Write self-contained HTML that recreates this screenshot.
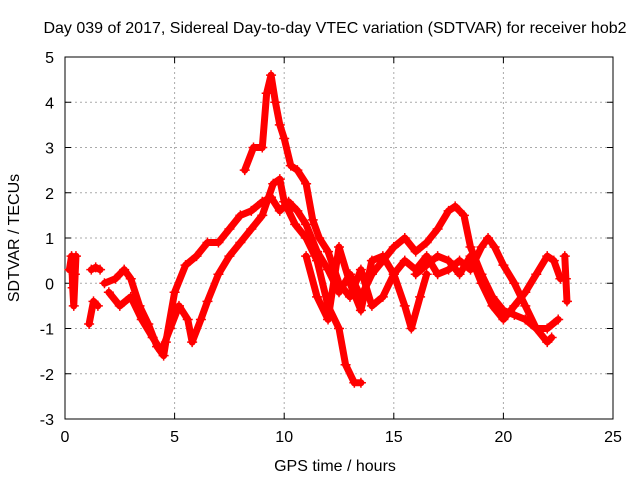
<!DOCTYPE html>
<html><head><meta charset="utf-8"><style>
body{margin:0;background:#fff}
svg{display:block;font-family:"Liberation Sans",sans-serif}
</style></head><body>
<svg id="chart" width="640" height="480">
<rect width="640" height="480" fill="#fff"/>
<g id="grid"></g>
<rect x="65" y="57" width="548" height="362" fill="none" stroke="#000" stroke-width="1"/>
<g id="ticks"></g>
<g id="series"></g>
<text x="335" y="33" text-anchor="middle" font-size="16">Day 039 of 2017, Sidereal Day-to-day VTEC variation (SDTVAR) for receiver hob2</text>
<text x="335" y="471" text-anchor="middle" font-size="16">GPS time / hours</text>
<text transform="translate(19,238) rotate(-90)" text-anchor="middle" font-size="16">SDTVAR / TECUs</text>
</svg>
<script>
const xTicks=[0,5,10,15,20,25];
const yTicks=[-3,-2,-1,0,1,2,3,4,5];
const s1=[[0.2,0.3],[0.3,0.6],[0.35,-0.1],[0.4,-0.5],[0.5,0.6],[0.45,0.2]];
const s2=[[1.1,-0.9],[1.3,-0.4],[1.5,-0.5]];
const s3=[[1.2,0.3],[1.4,0.35],[1.6,0.3]];
const s4=[[1.8,0],[2.3,0.1],[2.7,0.3],[3.0,0.1],[3.4,-0.5],[3.8,-0.9],[4.2,-1.4],[4.5,-1.6],[4.6,-1.3],[5.0,-0.2],[5.5,0.4],[6.0,0.6],[6.5,0.9],[7.0,0.9],[7.5,1.2],[8.0,1.5],[8.5,1.6],[9.0,1.8],[9.4,1.9],[9.8,1.6],[10.2,1.8],[10.6,1.6],[11.0,1.3],[11.5,0.7],[12,0.3],[12.5,-0.2],[13,0.2],[13.5,-0.3],[14,0.2],[14.5,0.5],[15,0.8],[15.5,1.0],[16,0.7],[16.5,0.9],[17,1.2],[17.5,1.6],[17.8,1.7],[18.2,1.5],[18.5,0.8],[19,0.2],[19.5,-0.3],[20,-0.6],[20.5,-0.7],[21,-0.8],[21.5,-1.0],[22,-1.0],[22.5,-0.8]];
const s5=[[2.0,-0.2],[2.5,-0.5],[3,-0.3],[3.5,-0.8],[4,-1.2],[4.4,-1.5],[4.8,-1.0],[5.2,-0.5],[5.6,-0.8],[5.8,-1.3],[6.2,-0.8],[6.5,-0.4],[7,0.2],[7.5,0.6],[8,0.9],[8.5,1.2],[9,1.5],[9.5,2.2],[9.8,2.3],[10,1.8],[10.5,1.3],[11,1.0],[11.5,0.5],[12,-0.5],[12.5,-1.0],[12.8,-1.8],[13.2,-2.2],[13.5,-2.2]];
const s6=[[8.2,2.5],[8.6,3.0],[9.0,3.0],[9.2,4.2],[9.4,4.6],[9.6,4.0],[9.8,3.5],[10,3.2],[10.3,2.6],[10.6,2.5],[11,2.2],[11.3,1.4],[11.6,1.0],[12,0.7],[12.5,0],[13,-0.3],[13.5,0.3],[14,-0.5],[14.5,-0.3],[15,0.2],[15.5,-0.5],[15.8,-1.0],[16.2,-0.3],[16.5,0.2]];
const s7=[[11.0,0.6],[11.5,-0.3],[12,-0.8],[12.5,0.8],[13,0],[13.5,-0.6],[14,0.5],[14.5,0.6],[15,0.2],[15.5,0.5],[16,0.3],[16.5,0.6],[17,0.2],[17.5,0.3],[18,0.5],[18.5,0.3],[19,0.8],[19.3,1.0],[19.6,0.8],[20,0.4],[20.5,0],[21,-0.5],[21.5,-1.0],[22,-1.3],[22.2,-1.2]];
const s8=[[16,0.2],[17,0.6],[17.5,0.5],[18,0.2],[18.5,0.6],[19,0],[19.5,-0.5],[20,-0.8],[20.5,-0.5],[21,-0.2],[21.5,0.2],[22,0.6],[22.3,0.5],[22.6,0.1]];
const s9=[[22.8,0.6],[22.85,0.1],[22.9,-0.4]];
const allSeries=[s1,s2,s3,s4,s5,s6,s7,s8,s9];
const NS='http://www.w3.org/2000/svg';
const X=v=>65+v*(548/25), Y=v=>57+(5-v)*(362/8);
const grid=document.getElementById('grid'),ticks=document.getElementById('ticks'),ser=document.getElementById('series');
function mk(t,a,p){const e=document.createElementNS(NS,t);for(const k in a)e.setAttribute(k,a[k]);p.appendChild(e);return e;}
xTicks.forEach(v=>{
 if(v>0&&v<25){const g=mk('line',{x1:X(v),x2:X(v),y1:57,y2:419,stroke:'#aaa','stroke-dasharray':'2,3'},grid);
 
 }
 const t=mk('text',{x:X(v),y:442,'text-anchor':'middle','font-size':'16'},ticks);t.textContent=v;
 
 
 mk('line',{x1:X(v),x2:X(v),y1:419,y2:413,stroke:'#000'},ticks);mk('line',{x1:X(v),x2:X(v),y1:57,y2:63,stroke:'#000'},ticks);
});
yTicks.forEach(v=>{
 if(v>-3&&v<5){const g=mk('line',{x1:65,x2:613,y1:Y(v),y2:Y(v),stroke:'#aaa','stroke-dasharray':'2,3'},grid);
 
 }
 const t=mk('text',{x:54,y:Y(v)+6,'text-anchor':'end','font-size':'16'},ticks);t.textContent=v;
 
 
 mk('line',{x1:65,x2:71,y1:Y(v),y2:Y(v),stroke:'#000'},ticks);mk('line',{x1:613,x2:607,y1:Y(v),y2:Y(v),stroke:'#000'},ticks);
});
allSeries.forEach((s,i)=>{
 const g=mk('g',{},ser);
 
 
 mk('polyline',{points:s.map(p=>X(p[0])+','+Y(p[1])).join(' '),fill:'none',stroke:'#f00','stroke-width':7,'stroke-linejoin':'round','stroke-linecap':'round'},g);
 s.forEach(p=>{const x=X(p[0]),y=Y(p[1]);
  mk('path',{d:`M${x-5},${y}h10M${x},${y-5}v10`,stroke:'#f00','stroke-width':1.5},g);});
});
</script>
</body></html>
